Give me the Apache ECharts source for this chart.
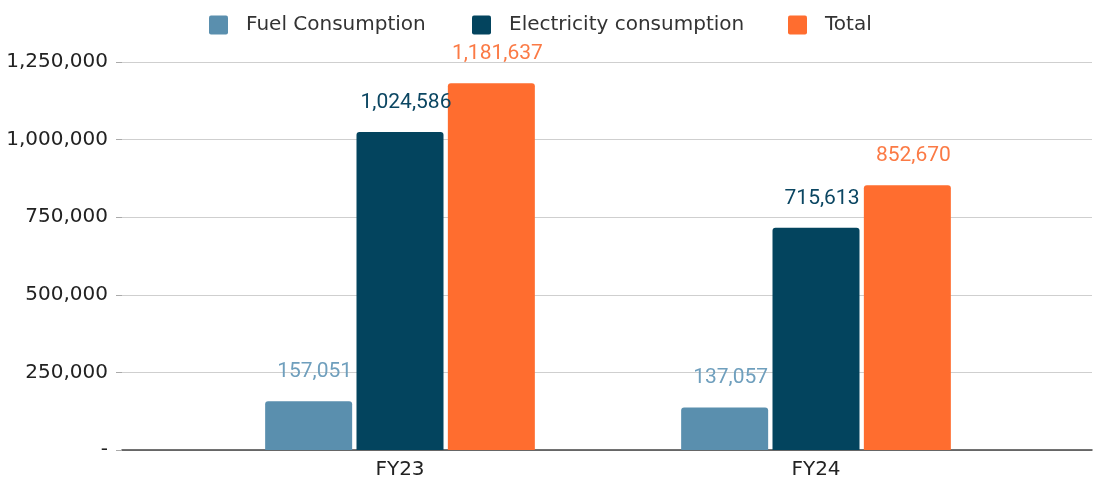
<!DOCTYPE html>
<html>

<head>
    <meta charset="utf-8">
    <script src="https://cdn.jsdelivr.net/npm/echarts@6/dist/echarts.min.js"></script>
    <style>
        body { margin: 0; background: #fff; }
        #main { width: 1093px; height: 481px; }
    </style>
</head>

<body>
    <div id="main"></div>
</body>
<script>
    var years = ['FY23', 'FY24'];
    var seriesNames = ['Fuel Consumption', 'Electricity consumption', 'Total'];
    var fuel = [157051, 137057];
    var electricity = [1024586, 715613];
    var total = [1181637, 852670];

    var colors = ['#5a8fae', '#03445e', '#ff6d2f'];
    var labelColors = ['#6f9fbd', '#0b4662', '#fb7a45'];
    var legendLeft = [204, 467, 783];

    function fmt(v) {
        return v.toString().replace(/\B(?=(\d{3})+(?!\d))/g, ',');
    }

    function barSeries(data, i) {
        return {
            name: seriesNames[i],
            type: 'bar',
            xAxisIndex: 1,
            yAxisIndex: 1,
            data: data,
            barWidth: 87,
            barGap: '5%',
            itemStyle: { color: colors[i], borderRadius: [3, 3, 0, 0] },
            label: {
                show: true,
                position: 'top',
                distance: 19,
                offset: [6, 0],
                color: labelColors[i],
                fontFamily: 'Roboto',
                fontSize: 21,
                formatter: function (p) { return fmt(p.value); }
            }
        };
    }

    // one legend per item so each sits where the reference puts it
    var legends = seriesNames.map(function (name, i) {
        return {
            top: 10,
            left: legendLeft[i],
            itemWidth: 19,
            itemHeight: 19,
            icon: 'path://M2,0 L17,0 Q19,0 19,2 L19,17 Q19,19 17,19 L2,19 Q0,19 0,17 L0,2 Q0,0 2,0 Z',
            textStyle: { fontFamily: 'DejaVu Sans', fontSize: 20, color: '#333', padding: [0, 0, 0, 13] },
            data: [name]
        };
    });

    var myChart = echarts.init(document.getElementById('main'));
    myChart.setOption({
        animation: false,
        legend: legends,
        grid: [
            { left: 122, right: 1, top: 62, bottom: 31 },
            { left: 192, right: 69, top: 62, bottom: 31 }
        ],
        xAxis: [{
            gridIndex: 0,
            type: 'value',
            min: 0,
            max: 1,
            axisLine: { show: true, lineStyle: { color: '#444', width: 1.5 } },
            axisTick: { show: false },
            axisLabel: { show: false },
            splitLine: { show: false }
        }, {
            gridIndex: 1,
            type: 'category',
            data: years,
            axisLine: { show: false },
            axisTick: { show: false },
            axisLabel: { margin: 10, color: '#222', fontFamily: 'DejaVu Sans', fontSize: 20 }
        }],
        yAxis: [{
            gridIndex: 0,
            type: 'value',
            min: 0,
            max: 1250000,
            interval: 250000,
            axisLine: { show: false },
            axisTick: { show: true, length: 6, lineStyle: { color: '#aaa' } },
            axisLabel: {
                margin: 14,
                color: '#222',
                fontFamily: 'DejaVu Sans',
                fontSize: 20,
                formatter: function (v) { return v === 0 ? '-' : fmt(v); }
            },
            splitLine: { lineStyle: { color: '#cfcfcf', width: 1.2 } }
        }, {
            gridIndex: 1,
            type: 'value',
            min: 0,
            max: 1250000,
            show: false
        }],
        series: [
            barSeries(fuel, 0),
            barSeries(electricity, 1),
            barSeries(total, 2)
        ]
    });
</script>

</html>
